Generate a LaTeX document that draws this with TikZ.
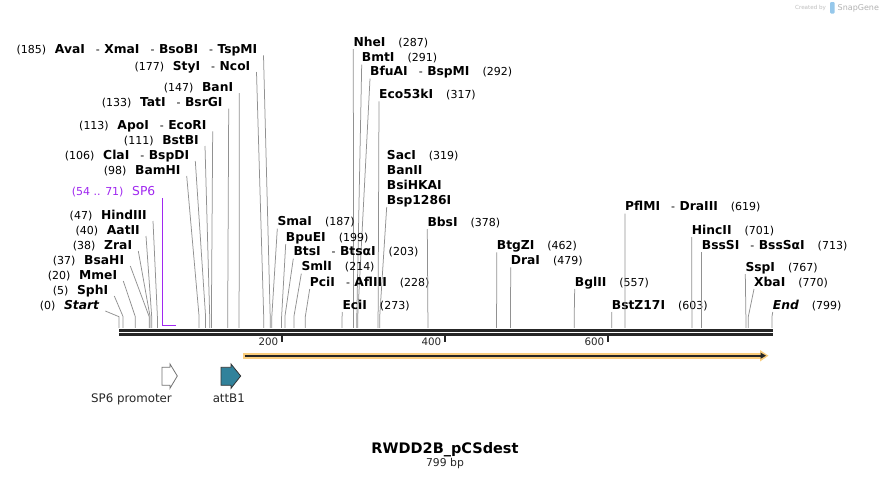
\documentclass[tikz,border=0pt]{standalone}
\usepackage{fontspec}
\setmainfont{DejaVu Sans}
\usetikzlibrary{calc}
\definecolor{cutgray}{RGB}{145,145,145}
\definecolor{sixpurple}{RGB}{160,40,240}
\definecolor{featteal}{RGB}{49,130,155}
\definecolor{orangebar}{RGB}{250,205,125}
\definecolor{barblack}{RGB}{38,38,38}
\definecolor{logoblue}{RGB}{150,200,235}
\newcommand\RSname[1]{{\fontsize{12.3}{13}\selectfont\bfseries #1}}
\newcommand\RSpos[1]{{\fontsize{11}{12}\selectfont #1}}
\newcommand\gA{\hspace{8.7pt}}
\newcommand\gB{\hspace{13pt}}
\newcommand\dsh{\hspace{11pt}\RSpos{-}\hspace{4.5pt}}
% left label: name, x of right end, baseline, site x, text
\newcommand\LL[5]{%
  \node[llab] (n#1) at (#2,#3) {#5};
  \coordinate (s#1) at (#4,327.8);
  \draw[cut] ($(n#1.base east)+(6,2)$) -- (s#1 |- kink) -- (s#1);}
% right label: name, x of left end, baseline, site x, text
\newcommand\RL[5]{%
  \node[rlab] (n#1) at (#2,#3) {#5};
  \coordinate (s#1) at (#4,327.8);
  \draw[cut] ($(n#1.base west)+(0,3)$) -- (s#1 |- kink) -- (s#1);}
\tikzset{
  llab/.style={anchor=base east, inner sep=0pt, text=black},
  rlab/.style={anchor=base west, inner sep=0pt, text=black},
  cut/.style={draw=cutgray, line width=0.75pt},
  tick/.style={draw=barblack, line width=1.7pt},
  ticklab/.style={anchor=base east, inner sep=0pt, text=black!85, font=\fontsize{10.3}{12}\selectfont},
  featlab/.style={anchor=base, inner sep=0pt, text=black!85, font=\fontsize{11.8}{13}\selectfont},
}
\begin{document}
\begin{tikzpicture}[x=1pt,y=-1pt]
\useasboundingbox (0,0) rectangle (892,479);
\fill[white] (0,0) rectangle (892,479);
\coordinate (kink) at (0,316.7);

% watermark
\node[anchor=base west, inner sep=0pt, text=black!25, font=\fontsize{5.6}{6}\selectfont] (wmA) at (795,9.5) {Created by};
\fill[logoblue, rounded corners=1pt] (830,2) rectangle (834.5,13.5);
\node[anchor=base west, inner sep=0pt, text=black!30, font=\fontsize{8}{9}\selectfont] (wmB) at (837.5,10) {SnapGene};

% sequence bar
\draw[barblack, line width=2.7pt] (119,330.3) -- (772.5,330.3);
\draw[barblack, line width=2.7pt] (119,334.3) -- (772.5,334.3);

% ticks
\draw[tick] (281.7,335) -- (281.7,342.3);
\node[ticklab] (t200) at (278.5,345.7) {200};
\draw[tick] (445,335) -- (445,342.3);
\node[ticklab] (t400) at (441.5,345.7) {400};
\draw[tick] (608.3,335) -- (608.3,342.3);
\node[ticklab] (t600) at (604.5,345.7) {600};

% SP6 primer
\node[llab, text=sixpurple] (nSPsix) at (155.5,195.7) {\RSpos{(54 .. 71)}\gA{\fontsize{12.3}{13}\selectfont SP6}};
\draw[sixpurple, line width=1.5pt] (162.7,198) -- (162.7,325.7) -- (176,325.7);

% left-side enzymes
\LL{Ava}{257.5}{53.3}{270.2}{\RSpos{(185)}\gA\RSname{AvaI}\dsh\RSname{XmaI}\dsh\RSname{BsoBI}\dsh\RSname{TspMI}}
\LL{Sty}{250.5}{70}{263.7}{\RSpos{(177)}\gA\RSname{StyI}\dsh\RSname{NcoI}}
\LL{Ban}{233.3}{91}{239.1}{\RSpos{(147)}\gA\RSname{BanI}}
\LL{Tat}{222.7}{106.7}{227.7}{\RSpos{(133)}\gA\RSname{TatI}\dsh\RSname{BsrGI}}
\LL{Apo}{206.7}{129.3}{211.4}{\RSpos{(113)}\gA\RSname{ApoI}\dsh\RSname{EcoRI}}
\LL{BstB}{199}{144}{209.7}{\RSpos{(111)}\gA\RSname{BstBI}}
\LL{Cla}{189.3}{159}{205.6}{\RSpos{(106)}\gA\RSname{ClaI}\dsh\RSname{BspDI}}
\LL{BamH}{180.7}{174}{199.1}{\RSpos{(98)}\gA\RSname{BamHI}}
\LL{Hind}{147}{219}{157.4}{\RSpos{(47)}\gA\RSname{HindIII}}
\LL{Aat}{140}{234}{151.7}{\RSpos{(40)}\gA\RSname{AatII}}
\LL{Zra}{132.3}{249}{150.1}{\RSpos{(38)}\gA\RSname{ZraI}}
\LL{BsaH}{124.3}{264}{149.2}{\RSpos{(37)}\gA\RSname{BsaHI}}
\LL{Mme}{117.3}{279}{135.3}{\RSpos{(20)}\gA\RSname{MmeI}}
\LL{Sph}{108.3}{294}{123.1}{\RSpos{(5)}\gA\RSname{SphI}}
\LL{Start}{99.3}{309}{119}{\RSpos{(0)}\gA\RSname{\itshape Start}}

% right-side enzymes
\RL{Nhe}{353.3}{46}{353.6}{\RSname{NheI}\gB\RSpos{(287)}}
\RL{Bmt}{361.7}{61.7}{356.8}{\RSname{BmtI}\gB\RSpos{(291)}}
\RL{BfuA}{370}{75.7}{357.7}{\RSname{BfuAI}\dsh\RSname{BspMI}\gB\RSpos{(292)}}
\RL{Eco}{379}{98.3}{378.1}{\RSname{Eco53kI}\gB\RSpos{(317)}}
\node[rlab] (nSac) at (386.7,159) {\RSname{SacI}\gB\RSpos{(319)}};
\node[rlab] (nBanII) at (386.7,174) {\RSname{BanII}};
\node[rlab] (nBsiHKA) at (386.7,189) {\RSname{BsiHKAI}};
\node[rlab] (nBsp) at (386.7,204) {\RSname{Bsp1286I}};
\coordinate (sSac) at (379.7,327.8);
\draw[cut] ($(nBsp.base west)+(0,3)$) -- (sSac |- kink) -- (sSac);
\RL{Sma}{277.3}{225.7}{271.8}{\RSname{SmaI}\gB\RSpos{(187)}}
\RL{BpuE}{285.7}{241}{281.6}{\RSname{BpuEI}\gB\RSpos{(199)}}
\RL{Bts}{293.3}{255.7}{284.9}{\RSname{BtsI}\dsh\RSname{BtsαI}\gB\RSpos{(203)}}
\RL{Sml}{301.3}{270.7}{293.9}{\RSname{SmlI}\gB\RSpos{(214)}}
\RL{Pci}{309.7}{286}{305.3}{\RSname{PciI}\dsh\RSname{AflIII}\gB\RSpos{(228)}}
\RL{Eci}{342.3}{309}{342.1}{\RSname{EciI}\gB\RSpos{(273)}}
\RL{Bbs}{427.3}{226}{427.9}{\RSname{BbsI}\gB\RSpos{(378)}}
\RL{BtgZ}{496.7}{249.3}{496.6}{\RSname{BtgZI}\gB\RSpos{(462)}}
\RL{Dra}{510.7}{264.3}{510.5}{\RSname{DraI}\gB\RSpos{(479)}}
\RL{Bgl}{574.7}{286}{574.2}{\RSname{BglII}\gB\RSpos{(557)}}
\RL{BstZ}{611.7}{309}{611.8}{\RSname{BstZ17I}\gB\RSpos{(603)}}
\RL{PflM}{625}{210.7}{624.9}{\RSname{PflMI}\dsh\RSname{DraIII}\gB\RSpos{(619)}}
\RL{Hinc}{691.7}{234}{691.9}{\RSname{HincII}\gB\RSpos{(701)}}
\RL{BssS}{701.7}{249.3}{701.7}{\RSname{BssSI}\dsh\RSname{BssSαI}\gB\RSpos{(713)}}
\RL{Ssp}{745.3}{271}{745.9}{\RSname{SspI}\gB\RSpos{(767)}}
\RL{Xba}{754}{286}{748.3}{\RSname{XbaI}\gB\RSpos{(770)}}
\RL{End}{772.7}{309}{772}{\RSname{\itshape End}\gB\RSpos{(799)}}

% ORF-like bar
\draw[orangebar, line width=6.3pt] (243,355.7) -- (761,355.7);
\fill[orangebar] (760,350) -- (768.5,355.7) -- (760,361.5) -- cycle;
\draw[barblack, line width=2.4pt] (244.5,355.7) -- (762,355.7);
\fill[barblack] (760.5,352.6) -- (766,355.7) -- (760.5,358.8) -- cycle;

% features
\draw[black!55, fill=white, line width=0.8pt] (162,367.3) -- (170,367.3) -- (170,364) -- (177.3,376) -- (170,388.3) -- (170,385.3) -- (162,385.3) -- cycle;
\draw[black!80, fill=featteal, line width=0.8pt] (221,367.3) -- (231,367.3) -- (231,364) -- (240.7,376) -- (231,388.3) -- (231,385.3) -- (221,385.3) -- cycle;
\node[featlab] (fSP) at (131.5,402) {SP6 promoter};
\node[featlab] (fatt) at (228.8,402) {attB1};

% title
\node[anchor=base, inner sep=0pt, font=\fontsize{14.5}{16}\selectfont\bfseries] (title) at (445,453.3) {RWDD2B\_pCSdest};
\node[anchor=base, inner sep=0pt, text=black!85, font=\fontsize{10.8}{12}\selectfont] (len) at (445,466) {799 bp};
\end{tikzpicture}
\end{document}
